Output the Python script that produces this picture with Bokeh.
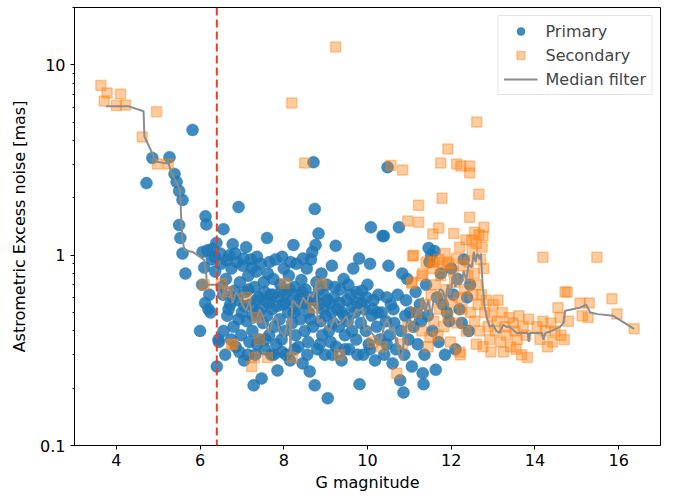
from bokeh.plotting import figure
from bokeh.models import Range1d, FixedTicker, CustomJSTickFormatter, Span, Legend, LegendItem
from bokeh.embed import file_html
from bokeh.resources import INLINE

# ---------------- data ----------------
prim_x = [
    4.72, 4.86, 5.27, 5.39, 5.44, 5.50, 5.58, 5.50, 5.53, 5.58,
    5.65, 5.82, 6.00, 6.06, 6.13, 6.15, 6.10, 6.05, 6.12, 6.20,
    6.25, 6.18, 6.30, 6.28, 6.22, 6.39, 6.56, 6.78, 7.10, 7.60,
    8.23, 8.74, 8.83, 9.24, 10.08, 10.39, 9.80, 6.92, 8.71, 8.76,
    6.35, 6.40, 6.45, 6.50, 6.55, 6.60, 6.62, 6.65, 6.70, 6.72,
    6.75, 6.80, 6.82, 6.85, 6.88, 6.90, 6.95, 6.98, 7.00, 6.44,
    7.02, 7.05, 7.08, 7.12, 7.15, 7.18, 7.20, 7.22, 7.25, 7.28,
    7.30, 7.32, 7.35, 7.38, 7.40, 7.42, 7.45, 7.47, 7.50, 7.52,
    7.55, 7.58, 7.60, 7.62, 7.65, 7.68, 7.70, 7.72, 7.75, 7.78,
    7.80, 7.82, 7.85, 7.88, 7.90, 7.92, 7.95, 7.98, 8.00, 8.02,
    8.05, 8.08, 8.10, 8.12, 8.15, 8.18, 8.20, 8.25, 8.28, 8.30,
    8.33, 8.35, 8.38, 8.40, 8.42, 8.45, 8.48, 8.50, 8.52, 8.55,
    8.58, 8.60, 8.62, 8.65, 8.67, 8.70, 8.74, 8.78, 8.80, 8.85,
    8.88, 8.90, 8.92, 8.95, 8.98, 9.00, 9.03, 9.05, 9.08, 9.10,
    9.12, 9.15, 9.18, 9.20, 9.25, 9.28, 9.32, 9.35, 9.38, 9.40,
    9.43, 9.46, 9.50, 9.53, 9.56, 9.60, 9.63, 9.66, 9.70, 9.73,
    9.76, 9.81, 9.84, 9.87, 9.90, 9.93, 9.96, 10.00, 10.03, 10.06,
    10.10, 10.14, 10.18, 10.22, 10.26, 10.30, 10.34, 10.36, 10.40, 10.44,
    10.48, 10.50, 10.52, 10.56, 10.60, 10.64, 10.68, 10.72, 10.75, 10.78,
    10.80, 10.83, 10.86, 10.88, 10.92, 10.95, 10.98, 11.02, 11.06, 11.10,
    11.15, 11.20, 11.25, 11.28, 11.32, 11.34, 11.36, 11.40, 11.44, 11.48,
    11.52, 11.55, 11.60, 11.63, 11.66, 11.70, 11.75, 11.80, 11.85, 11.90,
    11.95, 12.00, 12.05, 12.10, 12.15, 12.20, 12.25, 12.30, 12.38, 12.45,
    6.52, 6.68, 6.78, 6.92, 7.06, 7.16, 7.26, 7.34, 7.44, 7.54,
    7.64, 7.74, 7.84, 7.94, 8.04, 8.14, 8.24, 8.34, 8.44, 8.54,
    8.64, 8.74, 8.84, 8.94, 9.04, 9.14, 9.22, 9.34, 9.44, 9.54,
    9.64, 9.74, 9.86, 9.98, 10.12, 10.24, 10.46, 10.62, 10.90, 11.18,
    6.36, 6.48, 6.64, 6.84, 7.04, 7.24, 7.36, 7.66, 7.96, 8.16,
    8.46, 8.68, 6.56, 6.74, 6.94, 7.14, 7.36, 7.56, 7.76, 7.96,
    8.26, 8.56, 8.86, 9.16, 9.46, 9.76, 10.06, 10.46, 11.46, 12.42,
]
prim_y = [
    2.39, 3.24, 3.27, 2.67, 2.42, 2.17, 1.95, 1.44, 1.23, 1.02,
    0.80, 4.55, 0.40, 1.04, 1.60, 1.45, 0.86, 0.70, 0.56, 0.52,
    0.50, 1.06, 1.08, 0.95, 0.62, 1.16, 1.37, 1.14, 1.10, 1.23,
    1.13, 1.75, 1.30, 1.12, 1.40, 1.26, 0.96, 1.79, 3.08, 1.13,
    0.98, 0.26, 0.35, 0.90, 0.62, 0.30, 0.75, 0.48, 1.00, 0.55,
    0.85, 0.42, 0.65, 0.33, 0.92, 0.58, 0.72, 0.38, 0.50, 0.36,
    0.88, 0.28, 0.64, 0.45, 0.78, 0.35, 0.55, 0.95, 0.40, 0.207,
    0.68, 0.30, 0.82, 0.50, 0.60, 0.36, 0.90, 0.225, 0.44, 0.72,
    0.32, 0.58, 0.48, 0.80, 0.38, 0.62, 0.30, 0.52, 0.75, 0.42,
    0.95, 0.34, 0.248, 0.60, 0.46, 0.70, 0.36, 0.55, 0.85, 0.40,
    0.30, 0.64, 0.50, 0.78, 0.28, 0.58, 0.44, 0.68, 0.38, 0.90,
    0.52, 0.33, 0.62, 0.46, 0.74, 0.27, 0.56, 0.40, 0.66, 0.85,
    0.35, 0.50, 0.245, 0.95, 0.60, 0.42, 0.207, 0.72, 0.32, 0.55,
    0.45, 0.80, 0.38, 0.62, 0.30, 0.48, 0.70, 0.177, 0.40, 0.56,
    0.35, 0.88, 0.44, 0.60, 0.33, 0.52, 0.42, 0.66, 0.28, 0.50,
    0.75, 0.38, 0.58, 0.45, 0.32, 0.62, 0.40, 0.85, 0.50, 0.36,
    0.56, 0.21, 0.44, 0.65, 0.30, 0.52, 0.40, 0.70, 0.34, 0.90,
    0.48, 0.58, 0.28, 0.42, 0.62, 0.36, 0.50, 1.26, 0.30, 0.45,
    2.90, 0.88, 0.38, 0.55, 0.27, 0.44, 0.32, 0.62, 1.40, 0.22,
    0.40, 0.80, 0.19, 0.30, 0.58, 0.75, 0.36, 0.50, 0.26, 0.42,
    0.64, 0.34, 0.55, 0.45, 0.24, 0.21, 0.30, 0.70, 0.48, 0.92,
    1.00, 0.40, 1.05, 0.25, 0.60, 0.35, 0.80, 0.55, 0.30, 0.50,
    0.45, 0.85, 0.62, 0.32, 0.75, 0.52, 0.44, 0.95, 0.60, 0.70,
    0.68, 0.52, 0.60, 0.46, 0.54, 0.66, 0.48, 0.58, 0.52, 0.64,
    0.56, 0.62, 0.54, 0.64, 0.56, 0.66, 0.50, 0.58, 0.64, 0.56,
    0.46, 0.58, 0.66, 0.52, 0.58, 0.50, 0.68, 0.56, 0.48, 0.70,
    0.54, 0.64, 0.56, 0.60, 0.52, 0.50, 0.60, 0.52, 0.48, 0.50,
    0.82, 1.02, 0.94, 1.02, 0.96, 0.86, 0.98, 0.92, 0.98, 0.92,
    0.96, 1.04, 0.40, 0.36, 0.31, 0.30, 0.34, 0.36, 0.30, 0.31,
    0.32, 0.30, 0.34, 0.30, 0.32, 0.30, 0.32, 0.34, 1.09, 0.40,
]

sec_x = [
    3.63, 3.78, 4.10, 3.71, 4.00, 4.22, 4.96, 4.62, 4.98, 5.24,
    9.24, 8.19, 12.61, 11.92, 11.75, 12.13, 12.23, 12.44, 12.44, 10.84,
    11.78, 12.66, 8.50, 10.56, 11.22, 10.96, 11.22, 11.70, 11.56, 12.06,
    12.44, 12.78, 11.08, 12.56, 12.76, 12.49, 6.10, 6.51, 6.66, 7.10,
    7.35, 7.42, 6.78, 7.30, 7.61, 7.23, 8.20, 8.02, 8.90, 8.70,
    10.12, 10.34, 9.33, 10.70, 10.96, 10.84, 11.10, 11.30, 11.06, 11.18,
    11.60, 11.49, 11.40, 11.55, 11.70, 11.80, 11.85, 11.95, 12.05, 12.12,
    12.20, 12.28, 12.35, 12.42, 12.50, 12.55, 12.60, 12.66, 12.70, 12.74,
    12.78, 11.30, 11.38, 11.45, 11.52, 11.58, 11.62, 11.68, 11.72, 11.78,
    11.82, 11.88, 11.92, 11.98, 12.02, 12.08, 12.14, 12.18, 12.22, 12.26,
    12.32, 12.36, 12.40, 12.46, 12.52, 12.56, 12.60, 12.64, 12.68, 12.72,
    12.76, 12.80, 12.84, 12.88, 12.92, 12.96, 13.00, 13.05, 13.10, 13.12,
    13.18, 13.22, 13.28, 13.32, 13.38, 13.42, 13.48, 13.52, 13.58, 13.62,
    13.68, 13.72, 13.78, 13.82, 13.85, 12.20, 12.60, 12.95, 13.25, 13.55,
    14.05, 14.12, 14.19, 14.19, 14.25, 14.30, 14.38, 14.42, 14.48, 14.55,
    14.60, 14.62, 14.70, 14.72, 14.77, 14.80, 15.08, 15.13, 15.27, 15.30,
    15.48, 15.84, 15.96, 16.37, 11.06, 11.56, 11.90, 11.32, 11.75, 6.75,
]
sec_y = [
    7.79, 7.12, 7.03, 6.46, 6.12, 6.15, 5.66, 4.18, 3.01, 3.01,
    12.4, 6.30, 5.00, 3.61, 3.05, 3.01, 2.94, 2.94, 2.70, 2.80,
    1.99, 2.09, 3.05, 2.96, 1.83, 1.51, 1.49, 1.39, 1.29, 1.30,
    1.58, 1.40, 0.99, 1.32, 1.26, 1.20, 0.70, 0.71, 0.64, 0.60,
    0.47, 0.36, 0.34, 0.29, 0.29, 0.26, 0.29, 0.71, 0.71, 0.53,
    0.35, 0.33, 0.30, 0.24, 0.42, 0.34, 1.00, 0.78, 0.72, 0.50,
    0.92, 0.37, 0.92, 0.85, 0.95, 0.88, 1.02, 0.90, 0.82, 0.96,
    1.10, 0.88, 1.20, 0.92, 1.05, 0.80, 1.15, 1.28, 0.95, 1.10,
    0.85, 0.40, 0.55, 0.33, 0.62, 0.45, 0.70, 0.38, 0.52, 0.60,
    0.42, 0.66, 0.48, 0.35, 0.56, 0.72, 0.44, 0.60, 0.30, 0.52,
    0.66, 0.40, 0.78, 0.50, 0.62, 0.45, 0.70, 0.55, 0.40, 0.62,
    0.33, 0.50, 0.58, 0.42, 0.36, 0.48, 0.55, 0.40, 0.45, 0.58,
    0.35, 0.50, 0.42, 0.38, 0.47, 0.33, 0.44, 0.40, 0.36, 0.48,
    0.30, 0.42, 0.38, 0.29, 0.46, 0.31, 0.34, 0.31, 0.31, 0.32,
    0.42, 0.36, 0.45, 0.976, 0.40, 0.33, 0.44, 0.35, 0.40, 0.53,
    0.47, 0.38, 0.36, 0.64, 0.64, 0.45, 0.56, 0.48, 0.47, 0.56,
    0.976, 0.59, 0.49, 0.41, 0.71, 0.92, 0.92, 0.80, 0.78, 0.34,
]

med_x = [
    3.75, 4.30, 4.65, 4.67, 4.88, 4.95, 5.25, 5.30, 5.52, 5.55,
    5.58, 5.63, 5.82, 6.00, 6.10, 6.15, 6.16, 6.42, 6.48, 6.54,
    6.60, 6.70, 6.78, 6.86, 6.94, 7.02, 7.10, 7.18, 7.26, 7.35,
    7.42, 7.50, 7.58, 7.66, 7.74, 7.83, 7.90, 7.95, 8.02, 8.08,
    8.14, 8.16, 8.18, 8.21, 8.30, 8.38, 8.46, 8.55, 8.62, 8.70,
    8.78, 8.81, 8.90, 9.00, 9.10, 9.20, 9.30, 9.41, 9.50, 9.56,
    9.62, 9.70, 9.74, 9.81, 9.89, 9.93, 10.02, 10.10, 10.18, 10.24,
    10.29, 10.36, 10.42, 10.48, 10.55, 10.62, 10.69, 10.70, 10.76, 10.82,
    10.88, 10.94, 11.02, 11.10, 11.18, 11.25, 11.32, 11.38, 11.45, 11.52,
    11.60, 11.66, 11.72, 11.80, 11.86, 11.92, 11.98, 12.04, 12.10, 12.16,
    12.22, 12.30, 12.36, 12.42, 12.49, 12.54, 12.58, 12.63, 12.68, 12.71,
    12.75, 12.80, 12.85, 12.92, 13.00, 13.08, 13.16, 13.24, 13.32, 13.40,
    13.50, 13.57, 13.70, 13.83, 13.85, 13.88, 14.17, 14.20, 14.25, 14.40,
    14.60, 14.68, 14.72, 14.90, 15.08, 15.22, 15.32, 15.50, 15.87, 16.37,
]
med_y = [
    6.05, 6.05, 5.70, 4.20, 3.35, 3.10, 3.02, 2.78, 2.20, 1.55,
    1.20, 1.06, 1.04, 0.98, 0.94, 0.78, 0.70, 0.70, 0.62, 0.58,
    0.66, 0.68, 0.56, 0.64, 0.60, 0.54, 0.51, 0.58, 0.44, 0.45,
    0.52, 0.48, 0.42, 0.39, 0.46, 0.47, 0.40, 0.39, 0.37, 0.44,
    0.47, 0.30, 0.45, 0.58, 0.55, 0.53, 0.60, 0.56, 0.63, 0.60,
    0.72, 0.44, 0.46, 0.42, 0.40, 0.47, 0.43, 0.45, 0.48, 0.42,
    0.44, 0.50, 0.52, 0.51, 0.53, 0.40, 0.42, 0.39, 0.37, 0.37,
    0.34, 0.39, 0.44, 0.46, 0.40, 0.42, 0.34, 0.37, 0.30, 0.28,
    0.38, 0.44, 0.46, 0.42, 0.52, 0.51, 0.60, 0.50, 0.58, 0.48,
    0.62, 0.55, 0.66, 0.65, 0.58, 0.70, 0.62, 0.77, 0.68, 0.80,
    0.70, 0.82, 0.74, 0.90, 0.86, 1.04, 0.92, 1.02, 0.95, 1.02,
    0.70, 0.53, 0.47, 0.42, 0.43, 0.40, 0.39, 0.43, 0.42, 0.42,
    0.40, 0.39, 0.39, 0.39, 0.35, 0.39, 0.39, 0.36, 0.39, 0.40,
    0.42, 0.44, 0.51, 0.52, 0.53, 0.55, 0.50, 0.49, 0.48, 0.41,
]

cut_mag = 6.4
y_major = [0.1, 1, 10]
y_minor = [0.2, 0.3, 0.4, 0.5, 0.6, 0.7, 0.8, 0.9,
           2, 3, 4, 5, 6, 7, 8, 9, 20]
x_major = [4, 6, 8, 10, 12, 14, 16]

# ---------------- figure ----------------
FONT = "DejaVu Sans"
FS = "16px"
p = figure(width=681, height=497, y_axis_type="log",
           x_range=Range1d(3, 17), y_range=Range1d(0.1, 20),
           output_backend="svg", toolbar_location=None,
           min_border_left=74, min_border_right=21,
           min_border_top=7, min_border_bottom=52)
p.xgrid.visible = False
p.ygrid.visible = False
p.outline_line_color = "black"
p.outline_line_width = 1
p.background_fill_color = "white"
p.border_fill_color = "white"

r1 = p.scatter(prim_x, prim_y, marker="circle", size=12,
               fill_color="#1f77b4", line_color="#1f77b4",
               fill_alpha=0.85, line_alpha=0.85, line_width=0.5)
r2 = p.scatter(sec_x, sec_y, marker="square", size=10,
               fill_color="#ff7f0e", line_color="#ff7f0e",
               fill_alpha=0.4, line_alpha=0.4, line_width=1.5)
r3 = p.line(med_x, med_y, line_color="#8c8c8c", line_width=2)

p.add_layout(Span(location=cut_mag, dimension="height",
                  line_color="#f03a28", line_dash="8 4", line_width=2))

# axes
p.xaxis.ticker = FixedTicker(ticks=x_major)
p.yaxis.ticker = FixedTicker(ticks=y_major, minor_ticks=y_minor)
p.yaxis.formatter = CustomJSTickFormatter(code="return String(tick);")
for ax in (p.xaxis[0], p.yaxis[0]):
    ax.axis_line_color = "black"
    ax.major_tick_line_color = "black"
    ax.minor_tick_line_color = "black"
    ax.major_tick_in = 0
    ax.major_tick_out = 4
    ax.minor_tick_in = 0
    ax.minor_tick_out = 2
    ax.major_label_text_font = FONT
    ax.major_label_text_font_size = FS
    ax.major_label_text_color = "black"
    ax.axis_label_text_font = FONT
    ax.axis_label_text_font_size = FS
    ax.axis_label_text_font_style = "normal"
    ax.axis_label_text_color = "black"
p.xaxis.minor_tick_out = 0
p.xaxis.axis_label = "G magnitude"
p.yaxis.axis_label = "Astrometric Excess noise [mas]"
p.xaxis.major_label_standoff = 4
p.yaxis.major_label_standoff = 5
p.xaxis.axis_label_standoff = 4
p.yaxis.axis_label_standoff = 8

legend = Legend(items=[LegendItem(label="Primary", renderers=[r1]),
                       LegendItem(label="Secondary", renderers=[r2]),
                       LegendItem(label="Median filter", renderers=[r3])],
                location="top_right", margin=8, padding=5, spacing=4,
                glyph_width=34, glyph_height=20, label_height=20,
                label_standoff=8,
                label_text_font=FONT, label_text_font_size=FS,
                border_line_color="#cccccc", border_line_width=1,
                background_fill_color="white", background_fill_alpha=0.8)
p.add_layout(legend)

open("out.html", "w").write(file_html(p, INLINE))
